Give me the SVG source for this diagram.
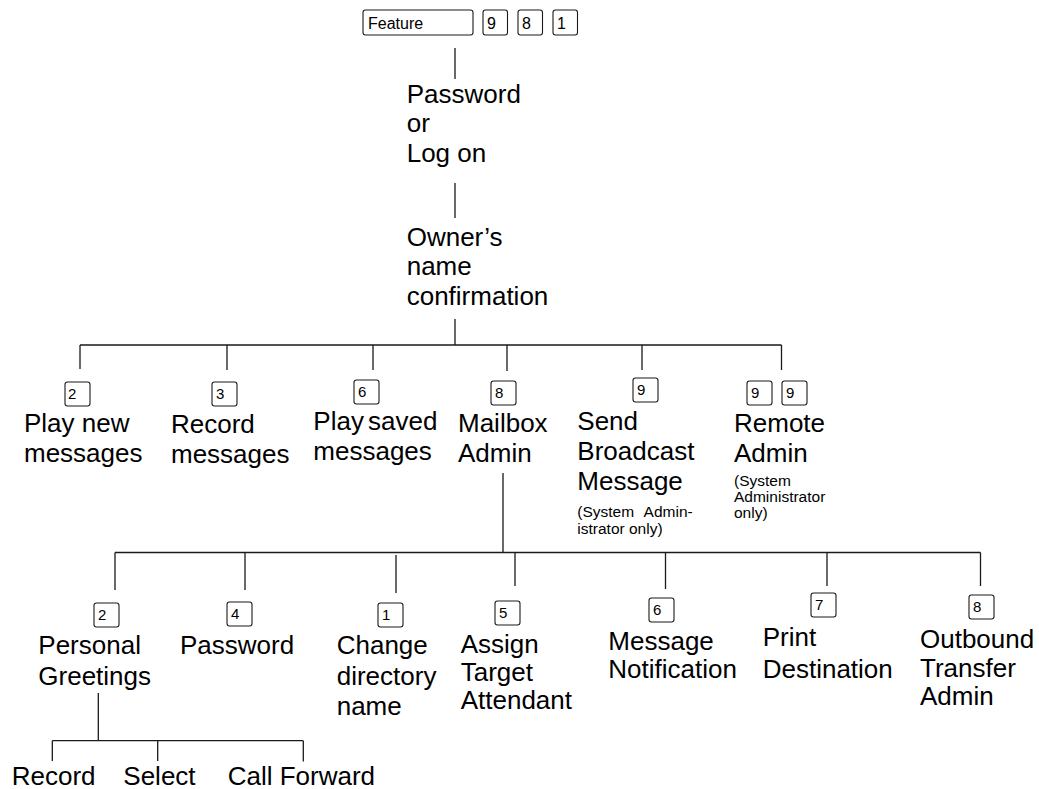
<svg xmlns="http://www.w3.org/2000/svg" width="1039" height="789" viewBox="0 0 1039 789">
<style>
.bg{fill:#fff}
.ln{stroke:#1a1a1a;stroke-width:1.3;fill:none}
.key{fill:#fff;stroke:#1a1a1a;stroke-width:1.1}
.kt{font-family:"Liberation Sans",Arial,sans-serif;font-size:15px;fill:#000}
.kt2{font-family:"Liberation Sans",Arial,sans-serif;font-size:16px;fill:#000}
.t{font-family:"Liberation Sans",Arial,sans-serif;font-size:26px;fill:#000}
.s{font-family:"Liberation Sans",Arial,sans-serif;font-size:15.5px;fill:#000}
</style>
<rect class="bg" x="0" y="0" width="1039" height="789"/>
<g id="connectors">
<path class="ln" d="M455 48V79M455 183V218M455 319V345"/>
<path class="ln" d="M80 345H781.5M80 345V369M227 345V370M373 345V370M507 345V371M642 345V370M781.5 345V370"/>
<path class="ln" d="M503 473V552.5M115 552.5H980.5M115 552.5V590M245 552.5V590M396 555V593M515 552.5V586M665.5 552.5V589M827 552.5V586M980.5 552.5V586"/>
<path class="ln" d="M98.3 693V740.7M52.3 740.7H303.3M52.3 740.7V761M157.7 740.7V761M303.3 740.7V761.5"/>
</g>
<g id="start">
<rect class="key" x="363" y="10" width="110" height="25" rx="2.5"/>
<text class="kt2" x="368" y="29">Feature</text>
<rect class="key" x="483" y="10" width="24.5" height="25" rx="2.5"/>
<text class="kt2" x="487" y="29">9</text>
<rect class="key" x="518" y="10" width="24.5" height="25" rx="2.5"/>
<text class="kt2" x="522" y="29">8</text>
<rect class="key" x="553" y="10" width="24.5" height="25" rx="2.5"/>
<text class="kt2" x="557" y="29">1</text>
</g>
<g id="password">
<text class="t" x="406.7" y="102.7">Password</text>
<text class="t" x="406.7" y="131.7">or</text>
<text class="t" x="406.7" y="161.7">Log on</text>
</g>
<g id="owner">
<text class="t" x="406.7" y="246">Owner’s</text>
<text class="t" x="406.7" y="275">name</text>
<text class="t" x="406.7" y="305">confirmation</text>
</g>
<g id="play-new">
<rect class="key" x="65" y="382" width="25" height="24" rx="2.5"/>
<text class="kt" x="68" y="399">2</text>
<text class="t" x="24" y="431.7">Play new</text>
<text class="t" x="24" y="461.7">messages</text>
</g>
<g id="record-messages">
<rect class="key" x="212" y="382" width="25" height="24" rx="2.5"/>
<text class="kt" x="216" y="399">3</text>
<text class="t" x="171" y="433">Record</text>
<text class="t" x="171" y="463">messages</text>
</g>
<g id="play-saved">
<rect class="key" x="354" y="380" width="25" height="24" rx="2.5"/>
<text class="kt" x="358" y="397">6</text>
<text class="t" x="313.3" y="430" word-spacing="-3">Play saved</text>
<text class="t" x="313.3" y="460">messages</text>
</g>
<g id="mailbox-admin">
<rect class="key" x="491" y="381" width="25" height="24" rx="2.5"/>
<text class="kt" x="495" y="398">8</text>
<text class="t" x="458" y="431.7">Mailbox</text>
<text class="t" x="458" y="461.7">Admin</text>
</g>
<g id="send-broadcast">
<rect class="key" x="633" y="378" width="25" height="24" rx="2.5"/>
<text class="kt" x="637" y="395">9</text>
<text class="t" x="577.3" y="430">Send</text>
<text class="t" x="577.3" y="460">Broadcast</text>
<text class="t" x="577.3" y="490">Message</text>
<text class="s" x="577.3" y="516.7" word-spacing="6">(System Admin-</text>
<text class="s" x="577.3" y="534">istrator only)</text>
</g>
<g id="remote-admin">
<rect class="key" x="747" y="381" width="25" height="24" rx="2.5"/>
<text class="kt" x="751" y="398">9</text>
<rect class="key" x="782" y="381" width="25" height="24" rx="2.5"/>
<text class="kt" x="786" y="398">9</text>
<text class="t" x="734" y="431.7">Remote</text>
<text class="t" x="734" y="461.7">Admin</text>
<text class="s" x="734" y="486">(System</text>
<text class="s" x="734" y="502.3">Administrator</text>
<text class="s" x="734" y="518.3">only)</text>
</g>
<g id="personal-greetings">
<rect class="key" x="94" y="603" width="25" height="24" rx="2.5"/>
<text class="kt" x="98" y="620">2</text>
<text class="t" x="38.3" y="654">Personal</text>
<text class="t" x="38.3" y="685">Greetings</text>
</g>
<g id="mb-password">
<rect class="key" x="227" y="602" width="25" height="24" rx="2.5"/>
<text class="kt" x="231" y="619">4</text>
<text class="t" x="180" y="654">Password</text>
</g>
<g id="change-directory">
<rect class="key" x="378" y="603" width="25" height="24" rx="2.5"/>
<text class="kt" x="382" y="620">1</text>
<text class="t" x="336.7" y="654">Change</text>
<text class="t" x="336.7" y="685">directory</text>
<text class="t" x="336.7" y="715">name</text>
</g>
<g id="assign-target">
<rect class="key" x="495" y="601" width="25" height="24" rx="2.5"/>
<text class="kt" x="499" y="618">5</text>
<text class="t" x="460.7" y="652.7">Assign</text>
<text class="t" x="460.7" y="680.7">Target</text>
<text class="t" x="460.7" y="709.3">Attendant</text>
</g>
<g id="message-notification">
<rect class="key" x="649" y="598" width="25" height="24" rx="2.5"/>
<text class="kt" x="653" y="615">6</text>
<text class="t" x="608.3" y="650">Message</text>
<text class="t" x="608.3" y="678.3">Notification</text>
</g>
<g id="print-destination">
<rect class="key" x="811" y="593" width="25" height="24" rx="2.5"/>
<text class="kt" x="815" y="610">7</text>
<text class="t" x="762.7" y="646">Print</text>
<text class="t" x="762.7" y="677.7">Destination</text>
</g>
<g id="outbound-transfer">
<rect class="key" x="969" y="595" width="25" height="24" rx="2.5"/>
<text class="kt" x="973" y="612">8</text>
<text class="t" x="920" y="648.3">Outbound</text>
<text class="t" x="920" y="676.7">Transfer</text>
<text class="t" x="920" y="705">Admin</text>
</g>
<g id="record"><text class="t" x="11.7" y="785">Record</text></g>
<g id="select"><text class="t" x="123.3" y="785">Select</text></g>
<g id="call-forward"><text class="t" x="227.7" y="785">Call Forward</text></g>
</svg>
